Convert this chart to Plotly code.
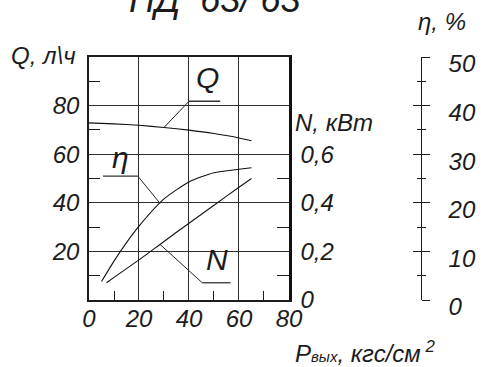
import numpy as np
import plotly.graph_objects as go

# Pump characteristic НД 63/63
p_q = [0, 10, 20, 30, 40, 50, 60, 65]
q_vals = [72.9, 72.5, 71.9, 71.0, 69.9, 68.5, 66.7, 65.5]          # Q, л/ч

p_eta = [5, 10, 15, 20, 30, 40, 50, 60, 65]
eta_vals = [3.8, 8.0, 11.8, 15.2, 20.8, 24.3, 26.2, 26.9, 27.2]    # η, %

p_n = [7, 10, 20, 30, 40, 50, 60, 65]
n_vals = [0.071, 0.093, 0.165, 0.241, 0.316, 0.390, 0.464, 0.500]  # N, кВт

x_ticks = [0, 20, 40, 60, 80]
q_ticks = [20, 40, 60, 80]
n_ticks = [0, 0.2, 0.4, 0.6]
n_ticktext = ["0", "0,2", "0,4", "0,6"]
eta_ticks = [0, 10, 20, 30, 40, 50]

FONT = "Liberation Sans, Arial, sans-serif"
INK = "#1c1c1c"
GRID = "#2e2e2e"

W, H = 486, 367
ML, MR, MT, MB = 89, 10, 57, 67
PW = W - ML - MR
PH = H - MT - MB


def px_x(px):
    return (px - ML) / PW


def px_y(py):
    return (H - MB - py) / PH


def italic(labels):
    return [f"<i>{t}</i>" for t in labels]


fig = go.Figure()
line_style = dict(color="#111111", width=1.1, shape="spline", smoothing=0.6)
fig.add_trace(go.Scatter(x=p_q, y=q_vals, mode="lines", line=line_style,
                         yaxis="y", showlegend=False, hoverinfo="skip"))
fig.add_trace(go.Scatter(x=p_eta, y=eta_vals, mode="lines", line=line_style,
                         yaxis="y3", showlegend=False, hoverinfo="skip"))
# same η series bound to the inner-tick twin of the η scale (kept transparent)
fig.add_trace(go.Scatter(x=p_eta, y=eta_vals, mode="lines", line=line_style,
                         yaxis="y4", opacity=0, showlegend=False, hoverinfo="skip"))
fig.add_trace(go.Scatter(x=p_n, y=n_vals, mode="lines", line=line_style,
                         yaxis="y2", showlegend=False, hoverinfo="skip"))

# curve captions: underline + leader to the curve
callouts = [
    # text, text (x, y) on Q-scale, underline x0, x1, y, leader target x, curve
    ("Q", 47.6, 91.5, 40.0, 52.5, 81.8, 30.0, "q"),
    ("η", 12.4, 58.5, 5.6, 19.5, 51.0, 28.4, "eta"),
    ("N", 51.2, 16.8, 45.3, 56.6, 7.1, 28.4, "n"),
]
for text, tx, ty, ux0, ux1, uy, lx, which in callouts:
    if which == "q":
        ly = float(np.interp(lx, p_q, q_vals))
    elif which == "eta":
        ly = float(np.interp(lx, p_eta, eta_vals)) * 2.0
    else:
        ly = float(np.interp(lx, p_n, n_vals)) * 100.0
    lead_x = ux0 if which in ("q", "n") else ux1
    fig.add_shape(type="line", x0=ux0, x1=ux1, y0=uy, y1=uy, xref="x", yref="y",
                  line=dict(color="#333333", width=1.3))
    fig.add_shape(type="line", x0=lead_x, x1=lx, y0=uy, y1=ly, xref="x", yref="y",
                  line=dict(color="#222222", width=1.0))
    fig.add_annotation(x=tx, y=ty, xref="x", yref="y", text=f"<i>{text}</i>",
                       showarrow=False, font=dict(family=FONT, size=30, color=INK))

tickfont = dict(family=FONT, size=24, color=INK)
x_dom = (297.6 - ML) / PW

fig.update_layout(
    width=W, height=H,
    margin=dict(l=ML, r=MR, t=MT, b=MB),
    paper_bgcolor="white", plot_bgcolor="white",
    xaxis=dict(domain=[0, x_dom], range=[0, 80], tickvals=x_ticks,
               ticktext=italic([str(v) for v in x_ticks]),
               ticks="", showgrid=True, gridcolor=GRID, gridwidth=1.2,
               showline=True, linecolor=INK, linewidth=1.5, mirror=True,
               zeroline=False, tickfont=tickfont, ticklabelstandoff=-4,
               minor=dict(tickvals=[10, 30, 50, 70], ticks="inside", ticklen=9,
                          tickcolor=INK, tickwidth=1.2, showgrid=False)),
    yaxis=dict(range=[0, 100], tickvals=q_ticks,
               ticktext=italic([str(v) for v in q_ticks]), ticks="", showgrid=True,
               gridcolor=GRID, gridwidth=1.2, showline=True, linecolor=INK,
               linewidth=1.5, zeroline=False, tickfont=tickfont,
               ticklabelstandoff=3,
               minor=dict(tickvals=[10, 30, 50, 70, 90], ticks="inside", ticklen=11,
                          tickcolor=INK, tickwidth=1.2, showgrid=False)),
    yaxis2=dict(overlaying="y", side="right", anchor="x", range=[0, 1.0],
                tickvals=n_ticks, ticktext=italic(n_ticktext), ticks="",
                showgrid=False, showline=True, linecolor="#111111", linewidth=2.5,
                zeroline=False, tickfont=tickfont, ticklabelstandoff=4,
                minor=dict(tickvals=[0.1, 0.3, 0.5], ticks="inside", ticklen=12,
                           tickcolor=INK, tickwidth=1.2, showgrid=False)),
    yaxis3=dict(overlaying="y", side="right", anchor="free", position=px_x(435),
                range=[0, 50], tickvals=eta_ticks,
                ticktext=italic([str(v) for v in eta_ticks]), ticks="outside",
                ticklen=8, tickcolor=INK, tickwidth=1.2, showgrid=False,
                showline=True, linecolor=INK, linewidth=1.2, zeroline=False,
                tickfont=tickfont, ticklabelstandoff=14, ticklabelshift=7,
                minor=dict(dtick=5, ticks="outside", ticklen=4, tickcolor=INK,
                           tickwidth=1.2, showgrid=False)),
    yaxis4=dict(overlaying="y", side="right", anchor="free", position=px_x(435),
                range=[0, 50], tickvals=eta_ticks, ticks="inside", ticklen=8,
                tickcolor=INK, tickwidth=1.2, showgrid=False, showline=False,
                zeroline=False, showticklabels=False,
                minor=dict(dtick=5, ticks="inside", ticklen=4, tickcolor=INK,
                           tickwidth=1.2, showgrid=False)),
)

afont = dict(family=FONT, size=24, color=INK)
fig.add_annotation(x=px_x(220), y=px_y(22), xref="paper", yref="paper",
                   text="<i>НД  63/ 63</i>", showarrow=False, xanchor="center",
                   yanchor="bottom", font=dict(family=FONT, size=36, color=INK))
fig.add_annotation(x=px_x(42), y=px_y(55), xref="paper", yref="paper",
                   text="<i>Q, л\\ч</i>", showarrow=False, xanchor="center",
                   yanchor="middle", font=afont)
fig.add_annotation(x=px_x(302), y=px_y(122), xref="paper", yref="paper",
                   text="<i>N, кВт</i>", showarrow=False, xanchor="left",
                   yanchor="middle", font=afont)
fig.add_annotation(x=px_x(457), y=px_y(21), xref="paper", yref="paper",
                   text="<i>η, %</i>", showarrow=False, xanchor="center",
                   yanchor="middle", font=afont)
fig.add_annotation(x=px_x(302), y=px_y(352), xref="paper", yref="paper",
                   text="<i>P<span style='font-size:15px'>вых</span>, кгс/см<sup> 2</sup></i>",
                   showarrow=False, xanchor="left", yanchor="middle", font=afont)

fig.write_html("out.html")
